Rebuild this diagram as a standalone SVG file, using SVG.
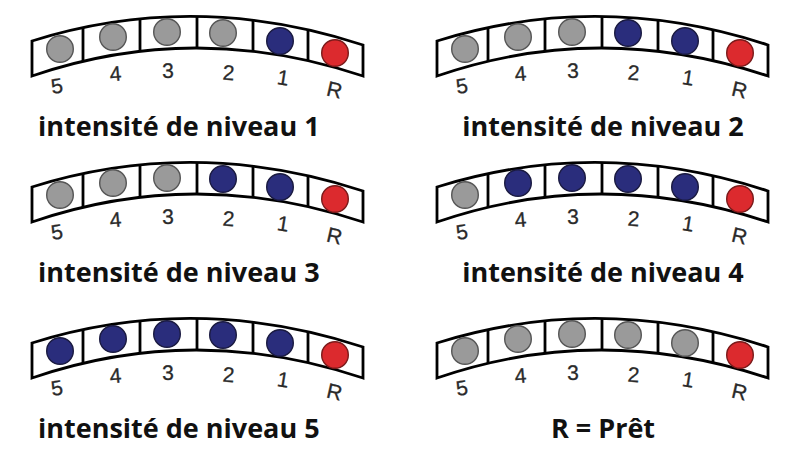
<svg xmlns="http://www.w3.org/2000/svg" xmlns:xlink="http://www.w3.org/1999/xlink" width="802" height="466" viewBox="0 0 802 466">
<style>
.band{fill:#fff;stroke:#000;stroke-width:2.8;stroke-linejoin:miter}
.div{stroke:#000;stroke-width:2.8}
.lbl{font-family:"Liberation Sans",Arial,sans-serif;font-size:21px;fill:#2a2a2a;text-anchor:middle;stroke:#2a2a2a;stroke-width:0.3}
.g{fill:#9a9a9a;stroke:#555;stroke-width:1.4}
.b{fill:#2a2d7c;stroke:#1a1a40;stroke-width:1.4}
.r{fill:#dc2a2e;stroke:#7a1a1a;stroke-width:1.4}
.title{font-family:"Open Sans","Noto Sans",sans-serif;font-weight:bold;font-size:27px;fill:#111}
</style>
<defs>
<g id="strip">
<path class="band" d="M32,41 Q195,-10 363,45 L363,76 Q195,20 32,76 Z"/>
<line class="div" x1="83" y1="27.8" x2="83" y2="61.4"/>
<line class="div" x1="140" y1="19" x2="140" y2="51.4"/>
<line class="div" x1="197" y1="16.5" x2="197" y2="48"/>
<line class="div" x1="253" y1="20.2" x2="253" y2="51.2"/>
<line class="div" x1="308" y1="29.6" x2="308" y2="60.5"/>
<text class="lbl" transform="translate(58,93) rotate(-9)">5</text>
<text class="lbl" transform="translate(116,81) rotate(-5)">4</text>
<text class="lbl" transform="translate(168,78) rotate(-1)">3</text>
<text class="lbl" transform="translate(228,80) rotate(4)">2</text>
<text class="lbl" transform="translate(282,85) rotate(9)">1</text>
<text class="lbl" transform="translate(333,97) rotate(13)">R</text>
</g>
</defs>

<g id="panel-niveau1">
<use xlink:href="#strip"/>
<circle class="g" cx="60" cy="49" r="13.3"/>
<circle class="g" cx="113" cy="37" r="13.3"/>
<circle class="g" cx="167" cy="32" r="13.3"/>
<circle class="g" cx="223" cy="33" r="13.3"/>
<circle class="b" cx="280" cy="41" r="13.3"/>
<circle class="r" cx="335" cy="53" r="13.3"/>
<text class="title" x="38" y="136">intensité de niveau 1</text>
</g>

<g id="panel-niveau2" transform="translate(405,0)">
<use xlink:href="#strip"/>
<circle class="g" cx="60" cy="49" r="13.3"/>
<circle class="g" cx="113" cy="37" r="13.3"/>
<circle class="g" cx="167" cy="32" r="13.3"/>
<circle class="b" cx="223" cy="33" r="13.3"/>
<circle class="b" cx="280" cy="41" r="13.3"/>
<circle class="r" cx="335" cy="53" r="13.3"/>
<text class="title" x="198" y="136" text-anchor="middle">intensité de niveau 2</text>
</g>

<g id="panel-niveau3" transform="translate(0,146)">
<use xlink:href="#strip"/>
<circle class="g" cx="60" cy="49" r="13.3"/>
<circle class="g" cx="113" cy="37" r="13.3"/>
<circle class="g" cx="167" cy="32" r="13.3"/>
<circle class="b" cx="223" cy="33" r="13.3"/>
<circle class="b" cx="280" cy="41" r="13.3"/>
<circle class="r" cx="335" cy="53" r="13.3"/>
<text class="title" x="38" y="136">intensité de niveau 3</text>
</g>

<g id="panel-niveau4" transform="translate(405,146)">
<use xlink:href="#strip"/>
<circle class="g" cx="60" cy="49" r="13.3"/>
<circle class="b" cx="113" cy="37" r="13.3"/>
<circle class="b" cx="167" cy="32" r="13.3"/>
<circle class="b" cx="223" cy="33" r="13.3"/>
<circle class="b" cx="280" cy="41" r="13.3"/>
<circle class="r" cx="335" cy="53" r="13.3"/>
<text class="title" x="198" y="136" text-anchor="middle">intensité de niveau 4</text>
</g>

<g id="panel-niveau5" transform="translate(0,302)">
<use xlink:href="#strip"/>
<circle class="b" cx="60" cy="49" r="13.3"/>
<circle class="b" cx="113" cy="37" r="13.3"/>
<circle class="b" cx="167" cy="32" r="13.3"/>
<circle class="b" cx="223" cy="33" r="13.3"/>
<circle class="b" cx="280" cy="41" r="13.3"/>
<circle class="r" cx="335" cy="53" r="13.3"/>
<text class="title" x="38" y="136">intensité de niveau 5</text>
</g>

<g id="panel-pret" transform="translate(405,302)">
<use xlink:href="#strip"/>
<circle class="g" cx="60" cy="49" r="13.3"/>
<circle class="g" cx="113" cy="37" r="13.3"/>
<circle class="g" cx="167" cy="32" r="13.3"/>
<circle class="g" cx="223" cy="33" r="13.3"/>
<circle class="g" cx="280" cy="41" r="13.3"/>
<circle class="r" cx="335" cy="53" r="13.3"/>
<text class="title" x="198" y="136" text-anchor="middle">R = Prêt</text>
</g>
</svg>
